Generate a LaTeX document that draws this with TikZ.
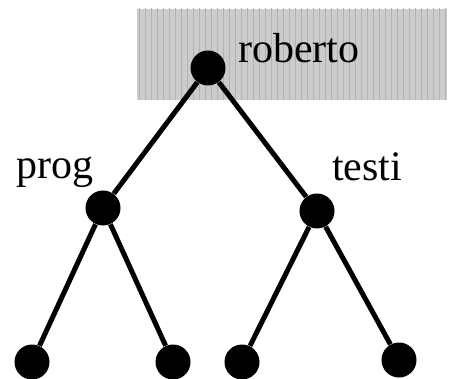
\documentclass[tikz,border=0pt]{standalone}
\usepackage{fontspec}
\setmainfont{Liberation Serif}
\usepackage{tikz}
\usetikzlibrary{patterns}

\tikzset{
    dot/.style={circle, fill=black, inner sep=0pt, minimum size=17.5pt},
    lbl/.style={anchor=base, inner sep=0pt, font=\fontsize{21}{25}\selectfont},
    branch/.style={line width=2.5pt}
}

\begin{document}
\begin{tikzpicture}[x=0.5pt, y=-0.5pt]
    \useasboundingbox (0,0) rectangle (449,379);

    % shaded box behind the root
    \fill[gray!40] (137,9) rectangle (447,100);
    \fill[pattern=vertical lines, pattern color=gray!60] (137,9) rectangle (447,100);

    \node[dot] (roberto) at (208,68) {};
    \node[dot] (prog) at (103,208) {};
    \node[dot] (testi) at (317,211) {};
    \node[dot] (prog1) at (32,362) {};
    \node[dot] (prog2) at (173,362) {};
    \node[dot] (testi1) at (242,362) {};
    \node[dot] (testi2) at (399,360) {};

    \draw[branch] (roberto) -- (prog);
    \draw[branch] (roberto) -- (testi);
    \draw[branch] (prog) -- (prog1);
    \draw[branch] (prog) -- (prog2);
    \draw[branch] (testi) -- (testi1);
    \draw[branch] (testi) -- (testi2);

    \node[lbl] (robertolbl) at (299,63) {roberto};
    \node[lbl] (proglbl) at (55,178) {prog};
    \node[lbl] (testilbl) at (367,181) {testi};
\end{tikzpicture}
\end{document}
